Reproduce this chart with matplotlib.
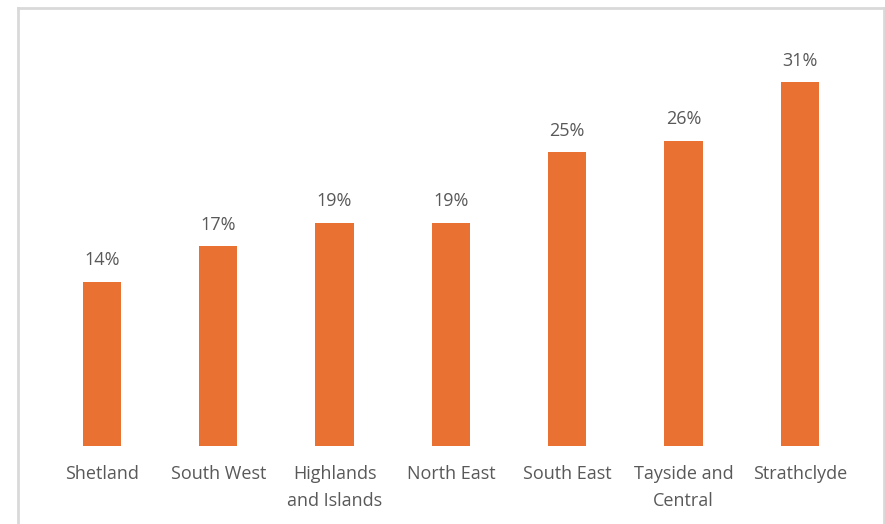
import matplotlib
matplotlib.use('Agg')
import matplotlib.pyplot as plt
from matplotlib.lines import Line2D

regions = ['Shetland', 'South West', 'Highlands\nand Islands', 'North East',
           'South East', 'Tayside and\nCentral', 'Strathclyde']
shares = [14, 17, 19, 19, 25, 26, 31]

ORANGE = '#E97132'
GREY = '#595959'
plt.rcParams['font.family'] = ['Open Sans', 'DejaVu Sans']

fig = plt.figure(figsize=(8.85, 5.24), dpi=100)
ax = fig.add_axes([0.0495, 0.149, 0.92, 0.784])

x = range(len(regions))
bars = ax.bar(x, shares, width=0.33, color=ORANGE)
for b, v in zip(bars, shares):
    ax.annotate(f'{v}%', (b.get_x() + b.get_width() / 2, v), xytext=(0, 9),
                textcoords='offset points', ha='center', va='bottom',
                fontsize=13, color=GREY)

ax.set_xlim(-0.5, len(regions) - 0.5)
ax.set_ylim(0, 35)
ax.set_xticks(list(x))
ax.set_xticklabels(regions, fontsize=13, color=GREY, linespacing=1.6)
ax.tick_params(axis='x', length=0, pad=14)
ax.set_yticks([])
for s in ax.spines.values():
    s.set_visible(False)

# light chart-area frame
W, H = 885, 524
fx = lambda p: p / W
fy = lambda p: 1 - p / H
frame = dict(color='#D9D9D9', lw=2, transform=fig.transFigure)
fig.add_artist(Line2D([fx(18), fx(18)], [fy(8), -0.05], **frame))
fig.add_artist(Line2D([fx(18), fx(884)], [fy(8), fy(8)], **frame))
fig.add_artist(Line2D([fx(884), fx(884)], [fy(8), -0.05], **frame))

fig.savefig('out.png', dpi=100)
